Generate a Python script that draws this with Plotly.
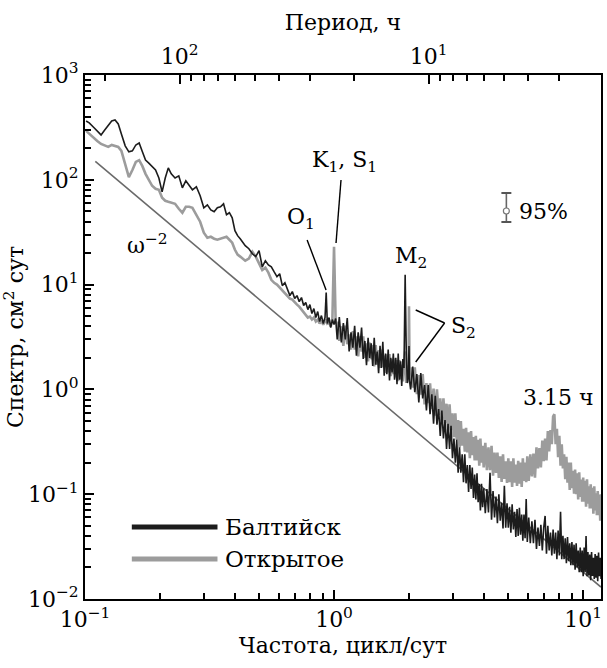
import plotly.graph_objects as go

# ---------------- data ----------------
freq_low = [0.101, 0.104, 0.108, 0.112, 0.116, 0.12, 0.124, 0.128, 0.132, 0.136,
            0.14, 0.145, 0.15, 0.155, 0.16, 0.165, 0.17, 0.175, 0.18, 0.186,
            0.192, 0.198, 0.204, 0.21, 0.216, 0.222, 0.23, 0.238, 0.246, 0.254,
            0.262, 0.27, 0.28, 0.29, 0.30, 0.31, 0.32, 0.33, 0.34, 0.35,
            0.36, 0.37, 0.38, 0.39, 0.40, 0.41, 0.42, 0.43, 0.44, 0.455,
            0.47, 0.485, 0.50, 0.515, 0.53, 0.545, 0.56, 0.575, 0.59, 0.605,
            0.62, 0.635, 0.65, 0.665, 0.68, 0.695, 0.71, 0.725, 0.74, 0.755,
            0.77, 0.785, 0.80, 0.815, 0.83, 0.845, 0.86, 0.875, 0.89, 0.905,
            0.92, 0.93, 0.94, 0.955, 0.97, 0.985, 1.0, 1.015]
balt_low = [364, 349, 319, 293, 268, 299, 327, 364, 372, 341,
            274, 211, 185, 189, 215, 225, 185, 154, 145, 135,
            124, 104, 76.8, 104, 130, 114, 104, 109, 83.9, 97.8,
            87.7, 80.3, 85.8, 70.4, 54.1, 57.7, 51.7, 49.5, 54.1, 55.3,
            59.0, 46.4, 48.5, 43.4, 32.7, 29.3, 27.4, 25.1, 23.5, 22.0,
            19.7, 18.5, 21.1, 14.8, 16.9, 15.4, 14.8, 13.2, 11.9, 12.7,
            9.78, 10.4, 8.96, 7.85, 8.58, 7.35, 7.85, 6.88, 7.52, 6.31,
            6.74, 5.77, 6.44, 5.29, 5.90, 4.85, 5.53, 4.44, 5.06, 4.25,
            4.85, 8.39, 4.25, 4.85, 3.89, 4.64, 4.15, 4.74]
otkr_low = [293, 274, 251, 235, 220, 211, 206, 215, 211, 206,
            189, 138, 106, 124, 148, 154, 135, 114, 100, 87.7,
            82.1, 80.3, 67.4, 63.1, 61.7, 60.4, 59.0, 52.9, 48.5, 55.3,
            55.3, 54.1, 46.4, 39.8, 31.3, 28.0, 28.6, 27.4, 26.8, 27.4,
            28.0, 28.6, 26.8, 25.1, 21.5, 19.3, 18.5, 17.7, 16.9, 17.7,
            20.6, 18.5, 15.8, 13.8, 14.5, 13.0, 11.1, 10.4, 10.0, 9.36,
            8.77, 8.21, 7.68, 7.35, 7.19, 6.74, 6.44, 6.17, 5.77, 5.53,
            5.06, 4.85, 4.95, 4.64, 4.85, 4.44, 4.64, 4.25, 4.54, 4.15,
            4.44, 4.64, 4.25, 4.34, 3.98, 4.74, 23.0, 4.44]

freq_a = [1.03, 1.05, 1.07, 1.09, 1.11, 1.13, 1.15, 1.17, 1.19, 1.21,
          1.23, 1.25, 1.27, 1.29, 1.31, 1.33, 1.35, 1.37, 1.39, 1.41,
          1.43, 1.45, 1.47, 1.49, 1.51, 1.53, 1.55, 1.57, 1.59, 1.61,
          1.63, 1.65, 1.67, 1.69, 1.71, 1.73, 1.75, 1.77, 1.79, 1.81,
          1.83, 1.85, 1.87, 1.89, 1.91, 1.93, 1.95, 1.97, 1.99, 2.0, 2.01]
balt_a = [3.0, 4.9, 2.8, 4.3, 3.0, 4.8, 2.3, 3.5, 2.5, 4.05,
          2.1, 3.5, 2.5, 3.9, 1.95, 2.9, 1.7, 3.1, 2.0, 2.75,
          1.67, 3.1, 1.72, 2.3, 1.43, 2.6, 1.6, 2.85, 1.35, 2.2,
          1.4, 2.4, 1.22, 2.0, 1.45, 2.2, 1.24, 2.0, 1.12, 2.2,
          1.24, 1.85, 1.08, 1.95, 1.6, 12.4, 2.3, 1.15, 1.4, 2.6, 1.2]
otkr_a = [4.3, 2.9, 4.0, 2.6, 4.05, 2.7, 3.35, 2.4, 3.6, 2.4,
          3.2, 2.07, 3.2, 2.3, 3.2, 2.0, 2.75, 1.85, 2.8, 1.94,
          2.65, 1.66, 2.65, 1.72, 2.37, 1.6, 2.4, 1.63, 2.1, 1.44,
          2.16, 1.45, 2.17, 1.34, 1.95, 1.4, 1.98, 1.3, 1.9, 1.2,
          1.9, 1.25, 1.72, 1.19, 1.78, 2.3, 1.15, 1.7, 1.25, 6.2, 1.55]

freq_b = [2.03, 2.07, 2.11, 2.15, 2.19, 2.23, 2.27, 2.31, 2.35, 2.39,
          2.43, 2.47, 2.51, 2.55, 2.59, 2.63, 2.67, 2.71, 2.75, 2.79,
          2.83, 2.87, 2.91, 2.95, 2.99, 3.03, 3.07, 3.11, 3.15, 3.19,
          3.23, 3.27, 3.31, 3.35, 3.39, 3.43, 3.47, 3.51, 3.55, 3.59,
          3.63, 3.67, 3.71, 3.75, 3.79, 3.83, 3.87, 3.91, 3.95, 3.99]
balt_b = [1.0, 1.65, 0.94, 1.4, 0.75, 1.43, 0.82, 1.1, 0.63, 1.1,
          0.58, 0.9, 0.47, 0.87, 0.46, 0.65, 0.36, 0.63, 0.34, 0.51,
          0.27, 0.47, 0.27, 0.45, 0.22, 0.34, 0.2, 0.33, 0.16, 0.28,
          0.16, 0.24, 0.13, 0.24, 0.127, 0.19, 0.105, 0.19, 0.112, 0.18,
          0.092, 0.154, 0.089, 0.158, 0.084, 0.125, 0.07, 0.126, 0.075, 0.114]
otkr_b = [1.62, 1.04, 1.62, 0.9, 1.37, 0.89, 1.4, 0.72, 1.15, 0.74,
          1.14, 0.65, 1.02, 0.56, 1.0, 0.57, 0.82, 0.5, 0.82, 0.48,
          0.73, 0.4, 0.72, 0.41, 0.59, 0.35, 0.59, 0.33, 0.51, 0.28,
          0.5, 0.29, 0.42, 0.255, 0.43, 0.25, 0.39, 0.22, 0.4, 0.236,
          0.35, 0.21, 0.36, 0.21, 0.33, 0.187, 0.34, 0.2, 0.29, 0.18]

freq_c = [4.05, 4.11, 4.17, 4.23, 4.29, 4.35, 4.41, 4.47, 4.53, 4.59,
          4.65, 4.71, 4.77, 4.83, 4.89, 4.95, 5.01, 5.07, 5.13, 5.19,
          5.25, 5.31, 5.37, 5.43, 5.49, 5.55, 5.61, 5.67, 5.73, 5.79,
          5.85, 5.91, 5.97]
balt_c = [0.066, 0.112, 0.067, 0.16, 0.057, 0.107, 0.06, 0.095, 0.053, 0.1,
          0.056, 0.083, 0.047, 0.12, 0.048, 0.082, 0.048, 0.076, 0.043, 0.08,
          0.046, 0.068, 0.039, 0.072, 0.04, 0.074, 0.041, 0.064, 0.036, 0.064,
          0.038, 0.09, 0.035]
otkr_c = [0.31, 0.17, 0.28, 0.17, 0.29, 0.15, 0.25, 0.16, 0.25, 0.143,
          0.23, 0.131, 0.24, 0.14, 0.206, 0.128, 0.22, 0.13, 0.206, 0.117,
          0.22, 0.129, 0.192, 0.12, 0.208, 0.126, 0.2, 0.117, 0.22, 0.134,
          0.2, 0.13, 0.23]

freq_d = [6.05, 6.14, 6.23, 6.32, 6.41, 6.50, 6.59, 6.68, 6.77, 6.86,
          6.95, 7.04, 7.13, 7.22, 7.31, 7.40, 7.49, 7.58, 7.67, 7.76,
          7.85, 7.94, 8.03, 8.12, 8.21, 8.30, 8.39, 8.48, 8.57, 8.66,
          8.75, 8.84, 8.93, 9.02, 9.11, 9.20, 9.29, 9.38, 9.47, 9.56,
          9.65, 9.74, 9.83, 9.92, 10.01, 10.10, 10.19, 10.28, 10.37, 10.46,
          10.55, 10.64, 10.73, 10.82, 10.91, 11.00, 11.09, 11.18, 11.27, 11.36,
          11.45, 11.54, 11.63, 11.72, 11.81]
balt_d = [0.06, 0.034, 0.055, 0.034, 0.057, 0.03, 0.048, 0.032, 0.051, 0.029,
          0.048, 0.062, 0.027, 0.05, 0.029, 0.043, 0.026, 0.046, 0.027, 0.043,
          0.024, 0.045, 0.026, 0.068, 0.024, 0.04, 0.024, 0.038, 0.022, 0.039,
          0.023, 0.034, 0.021, 0.035, 0.021, 0.033, 0.019, 0.034, 0.02, 0.029,
          0.018, 0.031, 0.018, 0.029, 0.0165, 0.031, 0.018, 0.04, 0.0165, 0.028,
          0.0168, 0.0266, 0.0151, 0.028, 0.0166, 0.0248, 0.0155, 0.0268, 0.016, 0.0258,
          0.0148, 0.0278, 0.0165, 0.0247, 0.0155]
otkr_d = [0.134, 0.24, 0.148, 0.244, 0.144, 0.28, 0.176, 0.276, 0.18, 0.325,
          0.207, 0.34, 0.21, 0.4, 0.256, 0.41, 0.3, 0.55, 0.58, 0.3,
          0.42, 0.225, 0.36, 0.187, 0.3, 0.176, 0.24, 0.139, 0.228, 0.129,
          0.2, 0.11, 0.2, 0.114, 0.167, 0.101, 0.172, 0.1, 0.158, 0.089,
          0.162, 0.094, 0.138, 0.085, 0.144, 0.085, 0.134, 0.076, 0.139, 0.081,
          0.119, 0.073, 0.124, 0.073, 0.115, 0.065, 0.119, 0.07, 0.102, 0.063,
          0.107, 0.063, 0.099, 0.056, 0.1]

# omega^-2 reference line
omega_f = [0.11, 11.8]
omega_s = [150, 0.013]

# axis ticks
x_tickvals = [0.1, 1, 10]
x_ticktext = ["10<sup>−1</sup>", "10<sup>0</sup>", "10<sup>1</sup>"]
x_minor = [0.2, 0.3, 0.4, 0.5, 0.6, 0.7, 0.8, 0.9, 2, 3, 4, 5, 6, 7, 8, 9]
y_tickvals = [0.01, 0.1, 1, 10, 100, 1000]
y_ticktext = ["10<sup>−2</sup>", "10<sup>−1</sup>", "10<sup>0</sup>",
              "10<sup>1</sup>", "10<sup>2</sup>", "10<sup>3</sup>"]
y_minor = [m * d for d in (0.01, 0.1, 1, 10, 100) for m in range(2, 10)]
# top axis: period in hours -> frequency = 24 / period
period_major = [100, 10]
period_major_text = ["10<sup>2</sup>", "10<sup>1</sup>"]
period_minor = [200, 90, 80, 70, 60, 50, 40, 30, 20, 9, 8, 7, 6, 5, 4, 3]

freq = freq_low + freq_a + freq_b + freq_c + freq_d
balt = balt_low + balt_a + balt_b + balt_c + balt_d
otkr = otkr_low + otkr_a + otkr_b + otkr_c + otkr_d

FONT = "DejaVu Serif"
FS = 22
DARK = "#1c1c1c"
GRAY = "#9c9c9c"

fig = go.Figure()
fig.add_trace(go.Scatter(x=omega_f, y=omega_s, mode="lines",
                         line=dict(color="#6a6a6a", width=1.6),
                         showlegend=False, hoverinfo="skip"))
fig.add_trace(go.Scatter(x=freq, y=otkr, mode="lines", name="Открытое",
                         line=dict(color=GRAY, width=2.6), showlegend=False))
fig.add_trace(go.Scatter(x=freq, y=balt, mode="lines", name="Балтийск",
                         line=dict(color=DARK, width=1.6), showlegend=False))
# invisible trace to activate the top (period) axis
fig.add_trace(go.Scatter(x=omega_f, y=omega_s, xaxis="x2", mode="lines",
                         line=dict(width=0), opacity=0,
                         showlegend=False, hoverinfo="skip"))

axis_common = dict(showgrid=False, zeroline=False, ticks="inside", ticklen=9,
                   tickwidth=2, tickcolor="black", showline=True,
                   linecolor="black", linewidth=2,
                   tickfont=dict(family=FONT, size=FS, color="black"))

fig.update_layout(
    width=607, height=668,
    margin=dict(l=85, r=4, t=75, b=69),
    paper_bgcolor="white", plot_bgcolor="white",
    font=dict(family=FONT, size=FS, color="black"),
    xaxis=dict(type="log", range=[-1, 1.072],
               tickmode="array", tickvals=x_tickvals, ticktext=x_ticktext,
               minor=dict(tickmode="array", tickvals=x_minor, ticks="inside",
                          ticklen=6, tickwidth=1.5, tickcolor="black"),
               title=dict(text="Частота, цикл/сут", standoff=6,
                          font=dict(family=FONT, size=FS)),
               **axis_common),
    xaxis2=dict(type="log", range=[-1, 1.072], overlaying="x", side="top",
                tickmode="array", tickvals=[24 / p for p in period_major],
                ticktext=period_major_text,
                minor=dict(tickmode="array", tickvals=[24 / p for p in period_minor],
                           ticks="inside", ticklen=6, tickwidth=1.5, tickcolor="black"),
                title=dict(text="Период, ч", standoff=4,
                           font=dict(family=FONT, size=FS)),
                **axis_common),
    yaxis=dict(type="log", range=[-2, 3], mirror=True,
               tickmode="array", tickvals=y_tickvals, ticktext=y_ticktext,
               minor=dict(tickmode="array", tickvals=y_minor, ticks="inside",
                          ticklen=6, tickwidth=1.5, tickcolor="black"),
               title=dict(text="Спектр, см<sup>2</sup> сут", standoff=4,
                          font=dict(family=FONT, size=FS)),
               **axis_common),
)

def px(xp, yp):
    return (xp - 85) / 518, (599 - yp) / 524

shapes = []
def seg(p0, p1, color="black", width=1.4):
    x0, y0 = px(*p0)
    x1, y1 = px(*p1)
    shapes.append(dict(type="line", xref="paper", yref="paper",
                       x0=x0, y0=y0, x1=x1, y1=y1,
                       line=dict(color=color, width=width)))

# pointer lines
seg((308, 240), (327, 290))
seg((342, 180), (337, 243))
seg((446, 323), (417, 310))
seg((446, 323), (417, 362))
# 95% error bar glyph
seg((508, 193), (508, 222), "#666666", 1.6)
seg((503, 193), (513, 193), "#555555", 2)
seg((503, 222), (513, 222), "#555555", 2)
cx0, cy0 = px(505, 214)
cx1, cy1 = px(511, 208)
shapes.append(dict(type="circle", xref="paper", yref="paper",
                   x0=cx0, y0=cy0, x1=cx1, y1=cy1,
                   line=dict(color="#777777", width=1.2), fillcolor="white"))
# legend samples
seg((132, 527), (218, 527), DARK, 5)
seg((132, 559), (218, 559), GRAY, 5)
fig.update_layout(shapes=shapes)

def label(text, xp, yp, anchor="center", size=FS):
    x, y = px(xp, yp)
    fig.add_annotation(x=x, y=y, xref="paper", yref="paper", text=text,
                       showarrow=False, xanchor=anchor, yanchor="middle",
                       font=dict(family=FONT, size=size, color="black"))

label("ω<sup>−2</sup>", 148, 244)
label("O<sub>1</sub>", 302, 218)
label("K<sub>1</sub>, S<sub>1</sub>", 346, 161)
label("M<sub>2</sub>", 412, 257)
label("S<sub>2</sub>", 465, 327)
label("95%", 545, 212)
label("3.15 ч", 560, 398)
label("Балтийск", 224, 527, "left", 23)
label("Открытое", 224, 559, "left", 23)

fig.write_html("out.html")
